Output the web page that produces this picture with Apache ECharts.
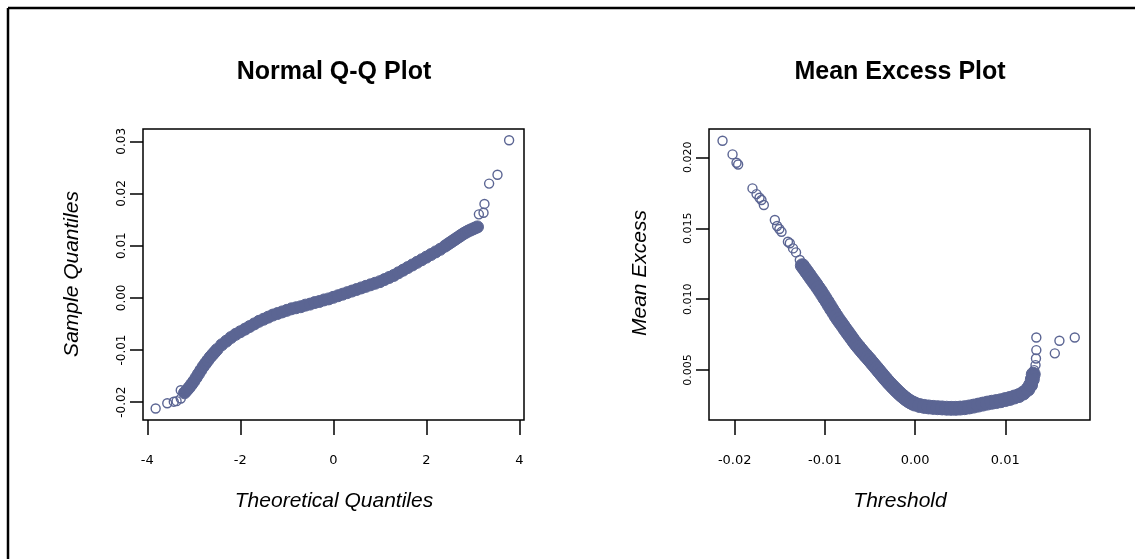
<!DOCTYPE html>
<html>
<head>
<meta charset="utf-8">
<script src="https://cdn.jsdelivr.net/npm/echarts@6/dist/echarts.min.js"></script>
<style>
html,body{margin:0;padding:0;background:#fff;}
#chart{width:1135px;height:559px;}
</style>
</head>
<body>
<div id="chart"></div>
<script>
// ---- Normal Q-Q plot data (dense band) ----
const qqX = [-3.2,-3.15,-3.1,-3.05,-3.0,-2.95,-2.9,-2.85,-2.8,-2.75,-2.7,-2.65,-2.6,-2.55,-2.5,-2.4,-2.3,-2.2,-2.1,-2.0,-1.9,-1.8,-1.7,-1.6,-1.5,-1.4,-1.3,-1.2,-1.1,-1.0,-0.9,-0.8,-0.7,-0.6,-0.5,-0.4,-0.3,-0.2,-0.1,0.0,0.1,0.2,0.3,0.4,0.5,0.6,0.7,0.8,0.9,1.0,1.1,1.2,1.3,1.4,1.5,1.6,1.7,1.8,1.9,2.0,2.1,2.2,2.3,2.4,2.45,2.5,2.55,2.6,2.65,2.7,2.75,2.8,2.85,2.9,2.95,3.0,3.05,3.1];
const qqY = [-0.0182,-0.0177,-0.0172,-0.0166,-0.0160,-0.0153,-0.0146,-0.0139,-0.0132,-0.0126,-0.0120,-0.0114,-0.0109,-0.0104,-0.0099,-0.0090,-0.0083,-0.0076,-0.0070,-0.0065,-0.0060,-0.0055,-0.0050,-0.0045,-0.0041,-0.0037,-0.0033,-0.0030,-0.0027,-0.0024,-0.0021,-0.0019,-0.0017,-0.0014,-0.0012,-0.0009,-0.0007,-0.0004,-0.0002,0.0001,0.0004,0.0007,0.0010,0.0013,0.0016,0.0019,0.0022,0.0025,0.0028,0.0031,0.0035,0.0039,0.0043,0.0048,0.0053,0.0058,0.0063,0.0068,0.0073,0.0078,0.0083,0.0088,0.0093,0.0099,0.0102,0.0105,0.0108,0.0111,0.0114,0.0117,0.0120,0.0123,0.01255,0.0128,0.0130,0.0132,0.0134,0.0136];
// ---- Normal Q-Q plot data (isolated tail points) ----
const qqTailX = [-3.82,-3.57,-3.43,-3.37,-3.28,-3.28,3.13,3.23,3.25,3.35,3.53,3.78];
const qqTailY = [-0.0212,-0.0202,-0.0199,-0.0198,-0.0193,-0.0177,0.0160,0.0163,0.0180,0.0219,0.0236,0.0302];

// ---- Mean excess plot data (dense band) ----
const meX = [-0.0125,-0.01225,-0.012,-0.01175,-0.0115,-0.01125,-0.011,-0.01075,-0.0105,-0.01025,-0.01,-0.00975,-0.0095,-0.00925,-0.009,-0.00875,-0.0085,-0.00825,-0.008,-0.00775,-0.0075,-0.00725,-0.007,-0.00675,-0.0065,-0.00625,-0.006,-0.00575,-0.0055,-0.00525,-0.005,-0.00475,-0.0045,-0.00425,-0.004,-0.00375,-0.0035,-0.00325,-0.003,-0.00275,-0.0025,-0.00225,-0.002,-0.00175,-0.0015,-0.00125,-0.001,-0.00075,-0.0005,-0.00025,0.0,0.0005,0.001,0.0015,0.002,0.0025,0.003,0.0035,0.004,0.0045,0.005,0.0055,0.006,0.0065,0.007,0.0075,0.008,0.0085,0.009,0.0095,0.01,0.0105,0.011,0.0115,0.012,0.0125,0.0128,0.013,0.0131];
const meY = [0.01236,0.01214,0.01192,0.0117,0.01147,0.01125,0.01103,0.0108,0.01057,0.01032,0.01007,0.00982,0.00956,0.0093,0.00905,0.0088,0.00856,0.00834,0.00812,0.00789,0.00767,0.00745,0.00723,0.00701,0.0068,0.00661,0.00642,0.00623,0.00605,0.00587,0.00569,0.0055,0.00531,0.00512,0.00493,0.00474,0.00455,0.00436,0.00418,0.00401,0.00384,0.00368,0.00352,0.00337,0.00322,0.00309,0.00296,0.00285,0.00275,0.00267,0.0026,0.0025,0.00244,0.0024,0.00237,0.00235,0.00233,0.00231,0.0023,0.0023,0.00232,0.00235,0.0024,0.00246,0.00253,0.0026,0.00267,0.00273,0.00278,0.00284,0.00292,0.003,0.0031,0.0032,0.00338,0.00365,0.00395,0.00435,0.0047];
// ---- Mean excess plot data (isolated points) ----
const meTailX = [-0.02135,-0.02024,-0.0198,-0.01962,-0.01803,-0.01758,-0.01725,-0.01703,-0.01677,-0.01555,-0.0153,-0.01505,-0.01481,-0.0141,-0.01389,-0.01353,-0.0132,-0.01278,0.01344,0.01344,0.0134,0.01335,0.0132,0.01549,0.016,0.0177];
const meTailY = [0.02117,0.02021,0.01962,0.0195,0.01781,0.01741,0.01715,0.01699,0.01664,0.01558,0.01516,0.01495,0.01475,0.01405,0.01394,0.01358,0.0133,0.01276,0.0073,0.00641,0.00582,0.00535,0.005,0.00618,0.00707,0.0073];

// ---- Tick values ----
const qqXTicks = [-4,-2,0,2,4];
const qqYTicks = [-0.02,-0.01,0,0.01,0.02,0.03];
const meXTicks = [-0.02,-0.01,0,0.01];
const meYTicks = [0.005,0.01,0.015,0.02];

const col = '#5b6593';
const pts = (xs, ys) => xs.map((x, i) => [x, ys[i]]);

const tickStyle = {color:'#000', width:1.5};
const labelFont = {fontFamily:'DejaVu Sans', fontSize:13, color:'#000'};

function xAxisCfg(gi, min, max, ticks, fmt){
  return {gridIndex:gi, type:'value', min:min, max:max,
    axisLine:{show:false, onZero:false}, splitLine:{show:false},
    axisTick:{show:true, customValues:ticks, length:15, lineStyle:tickStyle},
    axisLabel:Object.assign({customValues:ticks, margin:34, formatter:fmt}, labelFont)};
}
function yAxisCfg(gi, min, max, ticks, fmt, fs){
  return {gridIndex:gi, type:'value', min:min, max:max,
    axisLine:{show:false, onZero:false}, splitLine:{show:false},
    axisTick:{show:true, customValues:ticks, length:13, lineStyle:tickStyle},
    axisLabel:Object.assign({customValues:ticks, margin:15, rotate:90, formatter:fmt}, labelFont, {fontSize:fs})};
}

const option = {
  animation:false,
  backgroundColor:'#fff',
  grid:[
    {left:143, top:129, width:381, height:291, show:true, borderColor:'#000', borderWidth:1.5, backgroundColor:'transparent'},
    {left:709, top:129, width:381, height:291, show:true, borderColor:'#000', borderWidth:1.5, backgroundColor:'transparent'}
  ],
  xAxis:[
    xAxisCfg(0, -4.092, 4.1, qqXTicks, v => String(v)),
    xAxisCfg(1, -0.02285, 0.01939, meXTicks, v => v.toFixed(2))
  ],
  yAxis:[
    yAxisCfg(0, -0.02341, 0.03236, qqYTicks, v => v.toFixed(2), 12),
    yAxisCfg(1, 0.00148, 0.022, meYTicks, v => v.toFixed(3), 11)
  ],
  series:[
    {type:'scatter', xAxisIndex:0, yAxisIndex:0, data:pts(qqX, qqY), symbol:'circle', symbolSize:12,
      itemStyle:{color:col, borderColor:col, borderWidth:1, opacity:1}, silent:true},
    {type:'scatter', xAxisIndex:0, yAxisIndex:0, data:pts(qqTailX, qqTailY), symbol:'circle', symbolSize:9,
      itemStyle:{color:'rgba(0,0,0,0)', borderColor:col, borderWidth:1.4, opacity:1}, silent:true},
    {type:'scatter', xAxisIndex:1, yAxisIndex:1, data:pts(meX, meY), symbol:'circle', symbolSize:14,
      itemStyle:{color:col, borderColor:col, borderWidth:1, opacity:1}, silent:true},
    {type:'scatter', xAxisIndex:1, yAxisIndex:1, data:pts(meTailX, meTailY), symbol:'circle', symbolSize:9,
      itemStyle:{color:'rgba(0,0,0,0)', borderColor:col, borderWidth:1.4, opacity:1}, silent:true}
  ],
  graphic:[
    {type:'line', shape:{x1:8, y1:8, x2:1135, y2:8}, style:{stroke:'#000', lineWidth:2.5}},
    {type:'line', shape:{x1:8, y1:8, x2:8, y2:559}, style:{stroke:'#000', lineWidth:2.5}},
    {type:'text', x:334, y:72, style:{text:'Normal Q-Q Plot', font:'bold 25px "Liberation Sans"', fill:'#000', align:'center', verticalAlign:'middle'}},
    {type:'text', x:900, y:72, style:{text:'Mean Excess Plot', font:'bold 25px "Liberation Sans"', fill:'#000', align:'center', verticalAlign:'middle'}},
    {type:'text', x:334, y:501, style:{text:'Theoretical Quantiles', font:'italic 21px "Liberation Sans"', fill:'#000', align:'center', verticalAlign:'middle'}},
    {type:'text', x:900, y:501, style:{text:'Threshold', font:'italic 21px "Liberation Sans"', fill:'#000', align:'center', verticalAlign:'middle'}},
    {type:'text', x:72, y:274, rotation:Math.PI/2, style:{text:'Sample Quantiles', font:'italic 21px "Liberation Sans"', fill:'#000', align:'center', verticalAlign:'middle'}},
    {type:'text', x:640, y:273, rotation:Math.PI/2, style:{text:'Mean Excess', font:'italic 21px "Liberation Sans"', fill:'#000', align:'center', verticalAlign:'middle'}}
  ]
};

const chart = echarts.init(document.getElementById('chart'));
chart.setOption(option);
</script>
</body>
</html>
